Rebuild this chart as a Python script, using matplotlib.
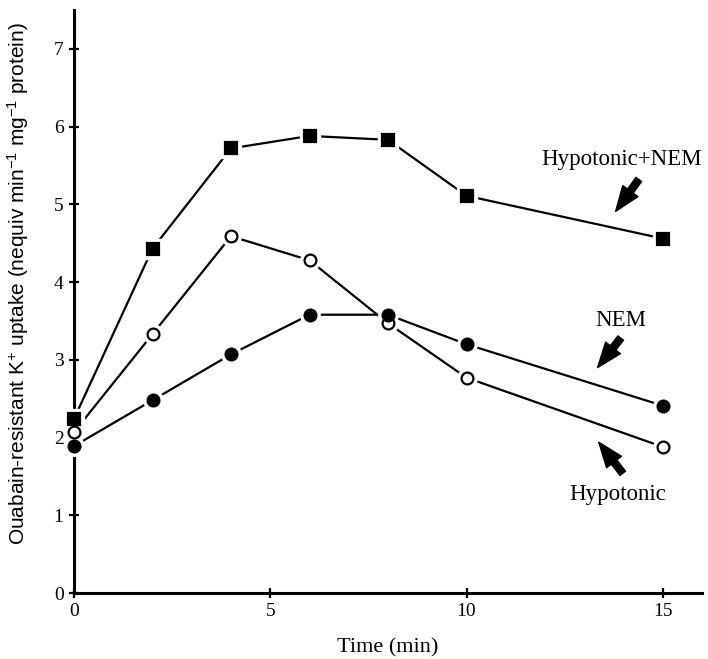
"""
Ouabain-resistant K+ uptake over time for three conditions.
Static PNG recreation with plain matplotlib.
"""

import matplotlib
matplotlib.use("Agg")
import matplotlib.pyplot as plt

OUTPUT_PNG = "out.png"

# Time points (min)
TIME = [0, 2, 4, 6, 8, 10, 15]

# Uptake values (nequiv min^-1 mg^-1 protein)
HYPO_NEM = [2.24, 4.43, 5.72, 5.88, 5.83, 5.11, 4.56]
HYPOTONIC = [2.07, 3.33, 4.59, 4.28, 3.47, 2.77, 1.88]
NEM = [1.89, 2.48, 3.07, 3.58, 3.58, 3.20, 2.41]

X_TICKS = [0, 5, 10, 15]
Y_TICKS = [0, 1, 2, 3, 4, 5, 6, 7]

SERIF = "Liberation Serif"
SANS = "Liberation Sans"

plt.rcParams["mathtext.fontset"] = "custom"
plt.rcParams["mathtext.rm"] = SANS
plt.rcParams["mathtext.it"] = SANS + ":italic"


def _plot_series(ax, y, marker, face):
    ax.plot(TIME, y, color="black", linewidth=1.6, zorder=3)
    # white halo gives the small gap between line and marker
    ax.plot(TIME, y, linestyle="none", marker=marker, markersize=14,
            markerfacecolor="white", markeredgecolor="white",
            zorder=4, clip_on=False)
    ax.plot(TIME, y, linestyle="none", marker=marker, markersize=8.5,
            markerfacecolor=face, markeredgecolor="black",
            markeredgewidth=1.6, zorder=5, clip_on=False)


def _arrow(ax, tail, head):
    ax.annotate(
        "", xy=head, xytext=tail,
        arrowprops=dict(
            arrowstyle="simple,head_width=0.75,head_length=1.0,tail_width=0.28",
            facecolor="black", edgecolor="black", shrinkA=0, shrinkB=0,
            mutation_scale=18,
        ),
        zorder=6,
    )


def main():
    fig = plt.figure(figsize=(7.08, 6.59), dpi=100)
    ax = fig.add_axes([74 / 708, 66 / 659, 628 / 708, 583 / 659])

    _plot_series(ax, HYPO_NEM, "s", "black")
    _plot_series(ax, HYPOTONIC, "o", "white")
    _plot_series(ax, NEM, "o", "black")

    ax.set_xlim(0, 16)
    ax.set_ylim(0, 7.5)
    ax.set_xticks(X_TICKS)
    ax.set_yticks(Y_TICKS)

    for side in ("top", "right"):
        ax.spines[side].set_visible(False)
    for side in ("left", "bottom"):
        ax.spines[side].set_linewidth(2.2)
    ax.tick_params(direction="inout", length=7, width=1.6,
                   labelsize=14, pad=4)
    for lab in ax.get_xticklabels() + ax.get_yticklabels():
        lab.set_fontfamily(SERIF)

    ax.set_xlabel("Time (min)", fontsize=16, fontfamily=SERIF, labelpad=13)
    ax.set_ylabel(
        "Ouabain-resistant K$^{+}$ uptake (nequiv min$^{-1}$ mg$^{-1}$ protein)",
        fontsize=15, fontfamily=SANS,
    )
    ax.yaxis.set_label_coords(-0.068, 0.53)

    ax.text(13.95, 5.58, "Hypotonic+NEM", ha="center", va="center",
            fontsize=16.5, fontfamily=SERIF)
    ax.text(13.93, 3.50, "NEM", ha="center", va="center",
            fontsize=16.5, fontfamily=SERIF)
    ax.text(13.85, 1.27, "Hypotonic", ha="center", va="center",
            fontsize=16.5, fontfamily=SERIF)

    _arrow(ax, (14.39, 5.32), (13.80, 4.91))
    _arrow(ax, (13.93, 3.28), (13.34, 2.90))
    _arrow(ax, (13.98, 1.54), (13.37, 1.94))

    fig.savefig(OUTPUT_PNG, dpi=100, facecolor="white")
    plt.close(fig)


if __name__ == "__main__":
    main()
